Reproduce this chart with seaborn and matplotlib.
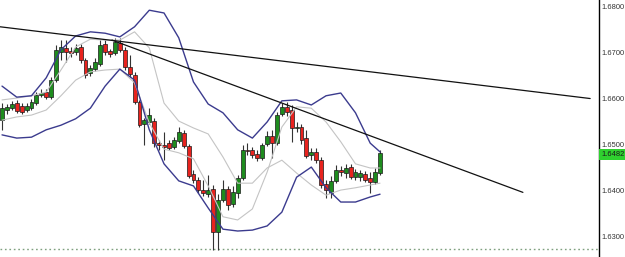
import numpy as np
import pandas as pd
import matplotlib
matplotlib.use("Agg")
import matplotlib.pyplot as plt
import matplotlib.transforms as mtransforms
import seaborn as sns

# ---------------- data ----------------
opens = [1.6554, 1.6576, 1.6580, 1.6591, 1.6585, 1.6576, 1.6580, 1.6591, 1.6609, 1.6615,
         1.6604, 1.6641, 1.6702, 1.6711, 1.6704, 1.6702, 1.6713, 1.6685, 1.6657, 1.6665,
         1.6676, 1.6720, 1.6704, 1.6700, 1.6722, 1.6707, 1.6670, 1.6652, 1.6593, 1.6546,
         1.6550, 1.6552, 1.6504, 1.6500, 1.6504, 1.6496, 1.6509, 1.6526, 1.6498, 1.6437,
         1.6424, 1.6402, 1.6393, 1.6404, 1.6311, 1.6380, 1.6404, 1.6372, 1.6396, 1.6428,
         1.6489, 1.6489, 1.6480, 1.6472, 1.6502, 1.6520, 1.6504, 1.6567, 1.6583, 1.6576,
         1.6537, 1.6539, 1.6515, 1.6478, 1.6485, 1.6467, 1.6415, 1.6396, 1.6422, 1.6446,
         1.6439, 1.6452, 1.6430, 1.6430, 1.6437, 1.6428, 1.6420, 1.6439]
highs = [1.6591, 1.6589, 1.6596, 1.6598, 1.6591, 1.6591, 1.6600, 1.6615, 1.6622, 1.6622,
         1.6648, 1.6717, 1.6728, 1.6728, 1.6713, 1.6720, 1.6720, 1.6689, 1.6674, 1.6689,
         1.6728, 1.6728, 1.6709, 1.6733, 1.6733, 1.6713, 1.6696, 1.6659, 1.6598, 1.6559,
         1.6580, 1.6559, 1.6511, 1.6528, 1.6511, 1.6517, 1.6539, 1.6533, 1.6502, 1.6446,
         1.6430, 1.6424, 1.6435, 1.6413, 1.6393, 1.6424, 1.6411, 1.6411, 1.6435, 1.6500,
         1.6504, 1.6496, 1.6489, 1.6504, 1.6530, 1.6533, 1.6572, 1.6591, 1.6593, 1.6587,
         1.6550, 1.6546, 1.6533, 1.6493, 1.6493, 1.6474, 1.6424, 1.6433, 1.6457, 1.6454,
         1.6459, 1.6459, 1.6448, 1.6446, 1.6443, 1.6441, 1.6450, 1.6489]
lows = [1.6533, 1.6567, 1.6576, 1.6570, 1.6567, 1.6572, 1.6576, 1.6587, 1.6604, 1.6600,
        1.6600, 1.6637, 1.6685, 1.6680, 1.6691, 1.6696, 1.6678, 1.6646, 1.6650, 1.6661,
        1.6672, 1.6696, 1.6691, 1.6696, 1.6702, 1.6663, 1.6648, 1.6589, 1.6539, 1.6500,
        1.6546, 1.6496, 1.6489, 1.6467, 1.6489, 1.6491, 1.6504, 1.6493, 1.6428, 1.6417,
        1.6396, 1.6389, 1.6387, 1.6272, 1.6272, 1.6376, 1.6359, 1.6365, 1.6385, 1.6424,
        1.6478, 1.6472, 1.6465, 1.6467, 1.6498, 1.6472, 1.6500, 1.6563, 1.6563, 1.6507,
        1.6528, 1.6502, 1.6472, 1.6467, 1.6461, 1.6407, 1.6385, 1.6385, 1.6417, 1.6433,
        1.6428, 1.6426, 1.6424, 1.6422, 1.6420, 1.6396, 1.6415, 1.6435]
closes = [1.6580, 1.6583, 1.6589, 1.6574, 1.6572, 1.6585, 1.6593, 1.6609, 1.6613, 1.6604,
          1.6641, 1.6707, 1.6713, 1.6702, 1.6700, 1.6711, 1.6685, 1.6652, 1.6667, 1.6680,
          1.6717, 1.6702, 1.6698, 1.6724, 1.6707, 1.6670, 1.6654, 1.6593, 1.6543, 1.6554,
          1.6565, 1.6504, 1.6500, 1.6496, 1.6493, 1.6511, 1.6528, 1.6498, 1.6433, 1.6424,
          1.6402, 1.6396, 1.6402, 1.6311, 1.6380, 1.6404, 1.6370, 1.6398, 1.6428, 1.6489,
          1.6487, 1.6478, 1.6472, 1.6500, 1.6520, 1.6504, 1.6565, 1.6583, 1.6572, 1.6537,
          1.6539, 1.6511, 1.6476, 1.6485, 1.6467, 1.6413, 1.6402, 1.6422, 1.6446, 1.6441,
          1.6450, 1.6430, 1.6441, 1.6439, 1.6424, 1.6420, 1.6441, 1.6482]

band_idx = [0, 3, 6, 9, 12, 15, 18, 21, 24, 27, 30, 33, 36, 39, 42, 45, 48, 51, 54, 57,
            60, 63, 66, 69, 72, 75, 77]
upper_band = [1.6628, 1.6604, 1.6607, 1.6646, 1.6707, 1.6737, 1.6746, 1.6743, 1.6735, 1.6757,
              1.6793, 1.6787, 1.6733, 1.6637, 1.6589, 1.6570, 1.6533, 1.6515, 1.6550, 1.6596,
              1.6598, 1.6587, 1.6607, 1.6613, 1.6570, 1.6504, 1.6485]
lower_band = [1.6522, 1.6515, 1.6517, 1.6533, 1.6543, 1.6557, 1.6580, 1.6628, 1.6665, 1.6641,
              1.6533, 1.6459, 1.6422, 1.6411, 1.6363, 1.6317, 1.6313, 1.6315, 1.6324, 1.6354,
              1.6430, 1.6452, 1.6407, 1.6376, 1.6376, 1.6387, 1.6393]
slow_line = [1.6598, 1.6602, 1.6607, 1.6615, 1.6663, 1.6713, 1.6730, 1.6728, 1.6728, 1.6746,
             1.6711, 1.6591, 1.6552, 1.6537, 1.6524, 1.6474, 1.6417, 1.6417, 1.6450, 1.6467,
             1.6439, 1.6413, 1.6391, 1.6402, 1.6407, 1.6413, 1.6417]
fast_line = [1.6554, 1.6561, 1.6565, 1.6576, 1.6607, 1.6641, 1.6659, 1.6663, 1.6665, 1.6635,
             1.6548, 1.6491, 1.6483, 1.6470, 1.6411, 1.6344, 1.6337, 1.6361, 1.6441, 1.6539,
             1.6583, 1.6580, 1.6550, 1.6507, 1.6459, 1.6450, 1.6450]

trend1_idx = [-0.41, 119.8]
trend1_price = [1.6757, 1.6601]
trend2_idx = [22.4, 106.1]
trend2_price = [1.6728, 1.6397]

dotted_level = 1.6274
current_price = 1.6482
ytick_values = [1.6300, 1.6400, 1.6500, 1.6600, 1.6700, 1.6800]
ytick_labels = ["1.6300", "1.6400", "1.6500", "1.6600", "1.6700", "1.6800"]

# ---------------- figure ----------------
sns.set_style("white")
plt.rcParams["font.family"] = ["Liberation Sans", "DejaVu Sans"]

W, H = 625, 257
fig = plt.figure(figsize=(W / 100, H / 100), dpi=100)
ax = fig.add_axes([0, 0, 599 / W, 1])

df = pd.DataFrame({"open": opens, "high": highs, "low": lows, "close": closes})
df["idx"] = np.arange(len(df))
up = df["close"] >= df["open"]

# wicks
ax.vlines(df["idx"], df["low"], df["high"], color="#333333", linewidth=0.8, zorder=2)
# bodies
body_h = (df["close"] - df["open"]).abs().clip(lower=0.00005)
body_b = df[["open", "close"]].min(axis=1)
colors = np.where(up, "#1e8c1e", "#e8231e")
ax.bar(df["idx"], body_h, bottom=body_b, width=0.8, color=colors,
       edgecolor="#1a1a1a", linewidth=0.5, zorder=3)

bands = pd.DataFrame({"idx": band_idx, "upper": upper_band, "lower": lower_band,
                      "slow": slow_line, "fast": fast_line})
for col, colr, lw in [("slow", "#c4c4c4", 0.8), ("fast", "#c4c4c4", 0.8),
                      ("upper", "#3b3b8e", 1.0), ("lower", "#3b3b8e", 1.0)]:
    sns.lineplot(data=bands, x="idx", y=col, ax=ax, color=colr, linewidth=lw,
                 estimator=None, sort=False, zorder=4)

sns.lineplot(x=trend1_idx, y=trend1_price, ax=ax, color="#111111", linewidth=0.9,
             estimator=None, sort=False, zorder=5)
sns.lineplot(x=trend2_idx, y=trend2_price, ax=ax, color="#111111", linewidth=0.9,
             estimator=None, sort=False, zorder=5)

ax.axhline(dotted_level, color="#7fa07f", linewidth=1.0, linestyle=(0, (1.2, 2.0)), zorder=1)

ax.set_xlim(-0.41, 121.6)
ax.set_ylim(1.62565, 1.68152)
ax.set_xlabel("")
ax.set_ylabel("")
ax.set_xticks([])

ax.yaxis.tick_right()
ax.set_yticks(ytick_values)
ax.set_yticklabels(ytick_labels)
ax.tick_params(axis="y", length=0, pad=2, labelsize=5.4, labelcolor="#333333")

for s in ["top", "left", "bottom"]:
    ax.spines[s].set_visible(False)
ax.spines["right"].set_color("black")
ax.spines["right"].set_linewidth(1.0)
ax.set_facecolor("white")
fig.patch.set_facecolor("white")

trans = mtransforms.blended_transform_factory(ax.transAxes, ax.transData)
ax.text(1.0035, current_price - 0.0002, "1.6482", transform=trans, fontsize=5.4,
        color="#1a1a1a", va="center", ha="left", zorder=10,
        bbox=dict(boxstyle="square,pad=0.25", facecolor="#2fd12f", edgecolor="none"),
        clip_on=False)

fig.savefig("out.png", dpi=100, facecolor="white")
